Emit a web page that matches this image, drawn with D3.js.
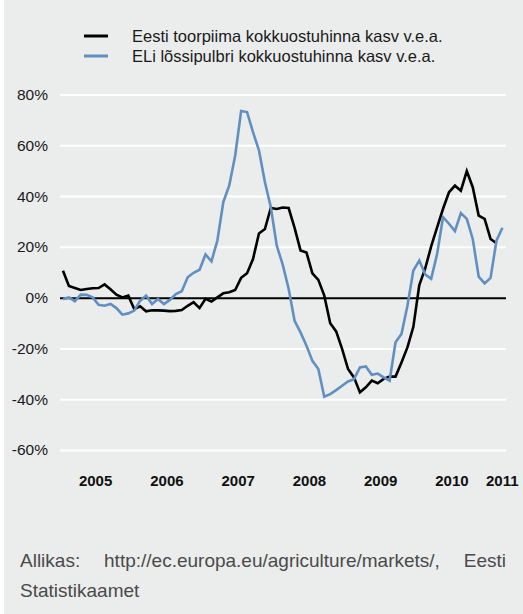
<!DOCTYPE html>
<html>
<head>
<meta charset="utf-8">
<script src="https://cdn.jsdelivr.net/npm/d3@7"></script>
<style>
  body { margin: 0; background: #fff; }
  svg { display: block; font-family: "Liberation Sans", Arial, sans-serif; }
</style>
</head>
<body>
<div id="chart"></div>
<script>
// monthly values, Jan 2005 ...
const eestiPiim = [10.6, 4.6, 3.8, 3.0, 3.4, 3.7, 3.8, 5.2, 3.3, 1.2, 0.1, 0.8,
  -4.5, -3.4, -5.4, -5.0, -5.0, -5.1, -5.3, -5.2, -4.9, -3.2, -1.8, -4.1,
  -0.5, -1.5, 0.1, 1.7, 2.1, 3.0, 7.8, 9.6, 15.2, 25.3, 27.0, 35.3,
  34.9, 35.5, 35.3, 27.5, 18.6, 17.8, 9.6, 7.0, 0.8, -10.1, -13.3, -20.2,
  -28.1, -31.4, -37.3, -35.3, -32.7, -33.7, -32.0, -31.1, -31.1, -25.5, -19.6, -11.5,
  5.0, 11.5, 20.2, 27.7, 35.0, 41.5, 44.1, 42.1, 49.8, 43.5, 32.3, 31.0,
  23.1, 21.4];
const eliPulber = [-0.5, 0.1, -1.4, 1.2, 1.1, 0.1, -2.8, -3.2, -2.5, -4.1, -6.7, -6.2,
  -5.1, -1.2, 0.8, -2.5, -0.5, -2.5, -0.9, 1.4, 2.5, 8.0, 9.8, 11.0,
  17.0, 14.3, 22.5, 37.6, 44.2, 56.0, 73.5, 73.1, 65.2, 58.0, 45.5, 35.6,
  20.5, 13.0, 3.5, -9.1, -13.7, -18.9, -24.9, -28.1, -39.0, -38.0, -36.4, -34.7,
  -33.0, -32.1, -27.5, -27.1, -30.4, -29.9, -31.4, -32.7, -17.6, -14.3, -3.2, 10.7,
  14.6, 9.1, 7.4, 17.2, 31.7, 29.1, 26.2, 33.3, 31.0, 23.1, 8.3, 5.6,
  7.8, 22.5, 27.5];
const years = ["2005", "2006", "2007", "2008", "2009", "2010", "2011"];
const yTicks = [-60, -40, -20, 0, 20, 40, 60, 80];
const seriesNames = ["Eesti toorpiima kokkuostuhinna kasv v.e.a.", "ELi lõssipulbri kokkuostuhinna kasv v.e.a."];
const seriesColors = ["#000000", "#6090c2"];

const W = 523, H = 614;
const plot = { left: 60, right: 506, top: 94.5, bottom: 450 };

const svg = d3.select("#chart").append("svg")
    .attr("width", W)
    .attr("height", H);

// taust
svg.append("rect")
    .attr("x", 4).attr("y", 0)
    .attr("width", W - 4).attr("height", H)
    .attr("fill", "#ebecec");

const x = d3.scaleLinear().domain([-0.5, 74.6]).range([plot.left, plot.right]);
const y = d3.scaleLinear().domain([-60, 80]).range([plot.bottom, plot.top]);

// Y telg + ruudustik
const yAxis = svg.append("g")
    .attr("transform", `translate(${plot.left},0)`)
    .call(d3.axisLeft(y).tickValues(yTicks).tickSize(-(plot.right - plot.left)).tickPadding(12).tickFormat(d => d + "%"));
yAxis.select(".domain").remove();
yAxis.selectAll(".tick line")
    .attr("stroke", d => d === 0 ? "#000" : "#fff")
    .attr("stroke-width", 2);
yAxis.selectAll(".tick text")
    .attr("fill", "#1a1a1a")
    .style("font-size", "15.5px")
    .style("font-family", "'Liberation Sans', Arial, sans-serif");
// nulljoon peale
yAxis.selectAll(".tick").filter(d => d === 0).raise();

// aastate sildid (viimane aasta on osaline)
const labelRight = 517;
svg.append("g").selectAll("text")
    .data(years)
    .join("text")
    .attr("x", (d, i) => {
        const a = x(12 * i - 0.5);
        const b = Math.min(x(12 * i + 11.5), i === years.length - 1 ? labelRight : Infinity);
        return (a + b) / 2;
    })
    .attr("y", 481)
    .attr("dy", "0.35em")
    .attr("text-anchor", "middle")
    .attr("font-weight", "bold")
    .attr("font-size", "15px")
    .attr("fill", "#111")
    .text(d => d);

// jooned
const line = d3.line()
    .x((d, i) => x(i))
    .y(d => y(d));

[eestiPiim, eliPulber].forEach((s, k) => {
    svg.append("path")
        .datum(s)
        .attr("fill", "none")
        .attr("stroke", seriesColors[k])
        .attr("stroke-width", 2.6)
        .attr("stroke-linejoin", "miter")
        .attr("d", line);
});

// legend
seriesNames.forEach((name, k) => {
    const ly = 36 + k * 20;
    svg.append("line")
        .attr("x1", 84).attr("x2", 108)
        .attr("y1", ly).attr("y2", ly)
        .attr("stroke", seriesColors[k])
        .attr("stroke-width", 3);
    svg.append("text")
        .attr("x", 132).attr("y", ly)
        .attr("dy", "0.35em")
        .attr("font-size", "16.5px")
        .attr("fill", "#1a1a1a")
        .text(name);
});

// allikas, rööpjoondatud esimene rida
const srcWords = ["Allikas:", "http://ec.europa.eu/agriculture/markets/,", "Eesti"];
const srcLeft = 20, srcRight = 506;
const srcG = svg.append("g").attr("font-size", "19px").attr("fill", "#4a4a4a");
const words = srcG.selectAll("text.w")
    .data(srcWords)
    .join("text")
    .attr("class", "w")
    .attr("y", 567)
    .text(d => d);
const widths = [];
words.each(function() { widths.push(this.getComputedTextLength()); });
const gap = (srcRight - srcLeft - d3.sum(widths)) / (srcWords.length - 1);
let cx = srcLeft;
words.attr("x", (d, i) => {
    const p = cx;
    cx += widths[i] + gap;
    return p;
});
srcG.append("text")
    .attr("x", srcLeft)
    .attr("y", 597)
    .text("Statistikaamet");
</script>
</body>
</html>
